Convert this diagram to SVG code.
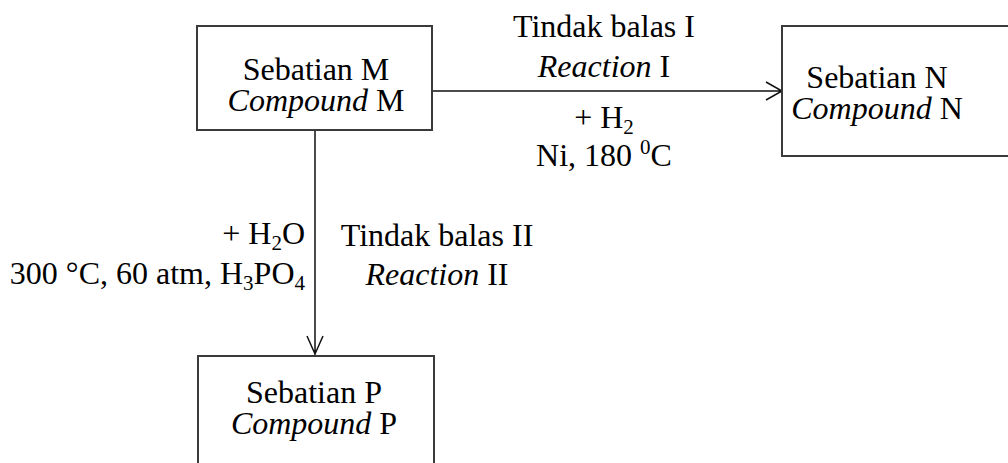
<svg xmlns="http://www.w3.org/2000/svg" width="1008" height="463" viewBox="0 0 1008 463">
<style>
.box{fill:#fff;stroke:#3a3a3a;stroke-width:2}
.ln{fill:none;stroke:#111;stroke-width:1.5}
text{font-family:"Liberation Serif","Times New Roman",serif;font-size:32px;fill:#000}
.c{text-anchor:middle}
.r{text-anchor:end}
.i{font-style:italic}
.s{font-size:21px}
</style>
<rect width="1008" height="463" fill="#fff"/>
<g id="connectors">
<path class="ln" d="M432 91H782M766 82L782 91L766 100"/>
<path class="ln" d="M315 130V356M307 336L315 354L323 336"/>
</g>
<g id="nodeM">
<rect class="box" x="197" y="26" width="235" height="104"/>
<text class="c" x="316" y="80">Sebatian M</text>
<text class="c" x="316" y="111"><tspan class="i">Compound</tspan> M</text>
</g>
<g id="nodeN">
<rect class="box" x="782" y="26" width="240" height="130"/>
<text class="c" x="877" y="88">Sebatian N</text>
<text class="c" x="877" y="119"><tspan class="i">Compound</tspan> N</text>
</g>
<g id="nodeP">
<rect class="box" x="198" y="356" width="236" height="120"/>
<text class="c" x="314" y="403">Sebatian P</text>
<text class="c" x="314" y="434"><tspan class="i">Compound</tspan> P</text>
</g>
<g id="labels">
<text class="c" x="604" y="37">Tindak balas I</text>
<text class="c" x="604" y="77"><tspan class="i">Reaction</tspan> I</text>
<text class="c" x="604" y="128">+ H<tspan class="s" dy="6">2</tspan></text>
<text class="c" x="604" y="166">Ni, 180 <tspan class="s" dy="-12">0</tspan><tspan dy="12">C</tspan></text>
<text class="r" x="305" y="244">+ H<tspan class="s" dy="6">2</tspan><tspan dy="-6">O</tspan></text>
<text class="r" x="305" y="284">300 °C, 60 atm, H<tspan class="s" dy="6">3</tspan><tspan dy="-6">PO</tspan><tspan class="s" dy="6">4</tspan></text>
<text class="c" x="437" y="246">Tindak balas II</text>
<text class="c" x="437" y="285"><tspan class="i">Reaction</tspan> II</text>
</g>
</svg>
